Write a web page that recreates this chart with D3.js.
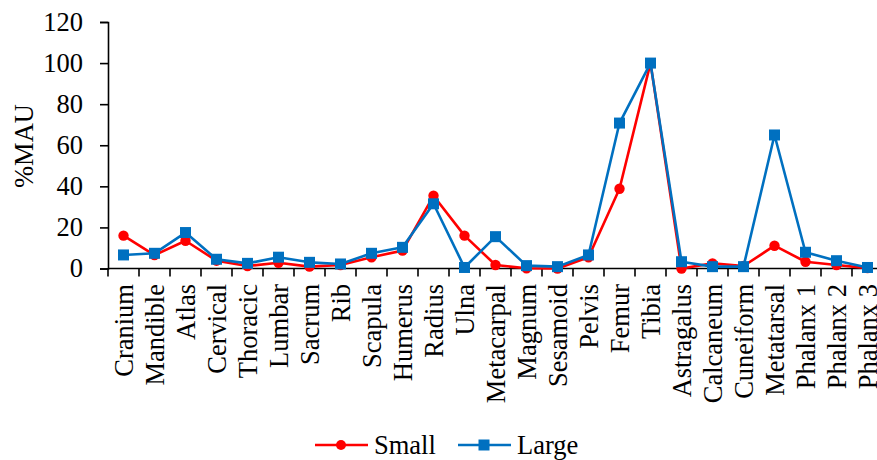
<!DOCTYPE html>
<html>
<head>
<meta charset="utf-8">
<script src="https://cdn.jsdelivr.net/npm/d3@7"></script>
<style>
  html, body { margin: 0; padding: 0; background: #fff; }
  svg, svg text { font-family: "Liberation Serif", "Times New Roman", serif; }
  svg { display: block; }
</style>
</head>
<body>
<svg id="chart" width="877" height="460"></svg>
<script>
// Skeletal elements (x axis)
const categories = ["Cranium", "Mandible", "Atlas", "Cervical", "Thoracic", "Lumbar", "Sacrum", "Rib",
  "Scapula", "Humerus", "Radius", "Ulna", "Metacarpal", "Magnum", "Sesamoid", "Pelvis", "Femur", "Tibia",
  "Astragalus", "Calcaneum", "Cuneiform", "Metatarsal", "Phalanx 1", "Phalanx 2", "Phalanx 3"];

// %MAU per element
const small = [16, 6.5, 13.5, 3.8, 1.2, 2.8, 0.9, 1.7, 5.5, 8.7, 35.4, 16, 1.7, 0.1, 0, 5.5, 38.8, 100,
  0, 2.5, 1.2, 11.1, 3.3, 1.7, 0.2];
const large = [6.6, 7.4, 17.5, 4.5, 2.5, 5.5, 3, 2.2, 7.4, 10.3, 31.5, 0.5, 15.5, 1.4, 0.9, 6.6, 70.8, 100,
  3.3, 0.9, 0.9, 65, 7.9, 3.8, 0.5];

const yTicks = [0, 20, 40, 60, 80, 100, 120];
const seriesNames = ["Small", "Large"];
const seriesColors = ["#FF0000", "#0070C0"];

const svg = d3.select("#chart");
const fontSize = 26.5;

const x0 = 108, bandW = 31;
const x = d3.scaleBand().domain(categories).range([x0, x0 + bandW * categories.length]).padding(0);
const y = d3.scaleLinear().domain([0, 120]).range([268.5, 22]);

// Y axis
const yAxis = svg.append("g").attr("transform", `translate(${x0},0)`)
  .call(d3.axisLeft(y).tickValues(yTicks).tickSize(8).tickPadding(17));
yAxis.attr("font-family", null).attr("font-size", null);
yAxis.select(".domain").attr("stroke", "#000").attr("stroke-width", 1.6);
yAxis.selectAll(".tick line").attr("stroke", "#000").attr("stroke-width", 1.6);
yAxis.selectAll(".tick text").style("font-size", fontSize + "px").attr("fill", "#000");

// Y axis title
svg.append("text")
  .attr("transform", "translate(33,146) rotate(-90)")
  .attr("text-anchor", "middle")
  .style("font-size", fontSize + "px")
  .attr("fill", "#000")
  .text("%MAU");

// X axis line with ticks on band boundaries
const gx = svg.append("g");
gx.append("line")
  .attr("x1", x0).attr("x2", x.range()[1])
  .attr("y1", y(0)).attr("y2", y(0))
  .attr("stroke", "#000").attr("stroke-width", 1.6);
gx.selectAll("line.tk")
  .data(categories)
  .join("line")
  .attr("class", "tk")
  .attr("x1", d => x(d)).attr("x2", d => x(d))
  .attr("y1", y(0)).attr("y2", y(0) + 8)
  .attr("stroke", "#000").attr("stroke-width", 1.6);
gx.selectAll("text")
  .data(categories)
  .join("text")
  .attr("transform", d => `translate(${x(d) + x.bandwidth() / 2},284) rotate(-90)`)
  .attr("text-anchor", "end")
  .attr("dy", "0.35em")
  .style("font-size", fontSize + "px")
  .attr("fill", "#000")
  .text(d => d);

// Series lines and markers
const cx = d => x(d) + x.bandwidth() / 2;
const line = d3.line().x(d => cx(d.cat)).y(d => y(d.v));
const series = [small, large].map((vals, i) => ({
  name: seriesNames[i], color: seriesColors[i],
  pts: categories.map((c, j) => ({ cat: c, v: vals[j] }))
}));

series.forEach((s, i) => {
  const g = svg.append("g");
  g.append("path")
    .datum(s.pts)
    .attr("d", line)
    .attr("fill", "none")
    .attr("stroke", s.color)
    .attr("stroke-width", 2.6)
    .attr("stroke-linejoin", "round");
  if (i === 0) {
    g.selectAll("circle").data(s.pts).join("circle")
      .attr("cx", d => cx(d.cat)).attr("cy", d => y(d.v)).attr("r", 5.2)
      .attr("fill", s.color);
  } else {
    const sz = 11;
    g.selectAll("rect").data(s.pts).join("rect")
      .attr("x", d => cx(d.cat) - sz / 2).attr("y", d => y(d.v) - sz / 2)
      .attr("width", sz).attr("height", sz)
      .attr("fill", s.color);
  }
});

// Legend
const legendY = 445;
const legendItems = [
  { name: seriesNames[0], color: seriesColors[0], lx: 315, tx: 374, shape: "circle" },
  { name: seriesNames[1], color: seriesColors[1], lx: 458, tx: 517, shape: "square" }
];
const lg = svg.append("g");
legendItems.forEach(it => {
  lg.append("line")
    .attr("x1", it.lx).attr("x2", it.lx + 53)
    .attr("y1", legendY).attr("y2", legendY)
    .attr("stroke", it.color).attr("stroke-width", 2.6);
  const mx = it.lx + 26;
  if (it.shape === "circle") {
    lg.append("circle").attr("cx", mx).attr("cy", legendY).attr("r", 5).attr("fill", it.color);
  } else {
    lg.append("rect").attr("x", mx - 5.5).attr("y", legendY - 5.5).attr("width", 11).attr("height", 11).attr("fill", it.color);
  }
  lg.append("text")
    .attr("x", it.tx).attr("y", legendY)
    .attr("dy", "0.35em")
    .style("font-size", fontSize + "px")
    .attr("fill", "#000")
    .text(it.name);
});
</script>
</body>
</html>
